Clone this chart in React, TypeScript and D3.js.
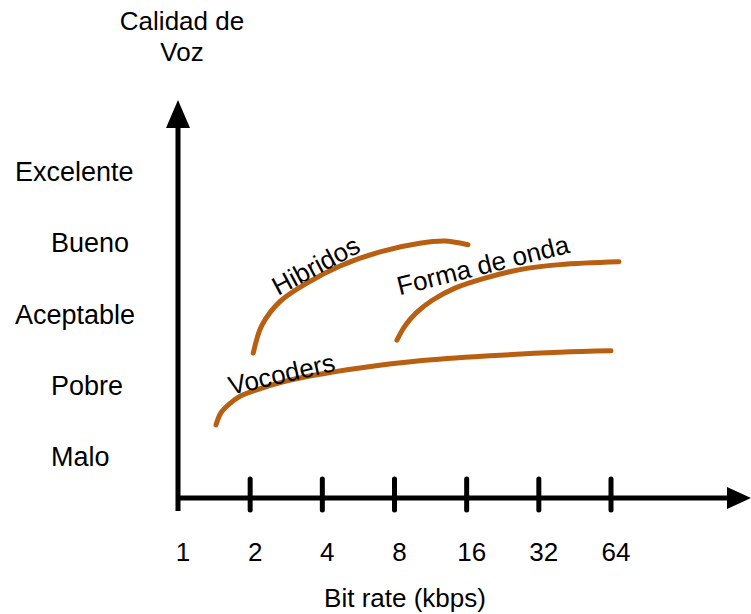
import * as d3 from 'd3';

// quality levels, top to bottom
const qualityLabels = ['Excelente', 'Bueno', 'Aceptable', 'Pobre', 'Malo'];
const qualityValues = [5, 4, 3, 2, 1];

const bitRates = [1, 2, 4, 8, 16, 32, 64];

// [kbps, quality]
const vocoders: [number, number][] = [
  [1.44, 1.45], [1.51, 1.62], [1.63, 1.74], [1.83, 1.86], [2.16, 1.95],
  [2.72, 2.05], [3.73, 2.15], [5.74, 2.25], [10.2, 2.35], [20.0, 2.42],
  [39.2, 2.47], [64, 2.49],
];
const hibridos: [number, number][] = [
  [2.06, 2.46], [2.24, 2.85], [2.66, 3.18], [3.45, 3.44], [4.74, 3.68],
  [6.96, 3.88], [10.2, 4.0], [13.0, 4.03], [16.2, 3.98],
];
const formaDeOnda: [number, number][] = [
  [8.19, 2.64], [8.85, 2.84], [9.83, 3.02], [11.5, 3.2], [14.3, 3.37],
  [19.1, 3.51], [26.7, 3.63], [39.2, 3.7], [69.1, 3.74],
];

// curve names: [name, kbps, quality, angle]
const curveLabels: [string, number, number, number][] = [
  ['Hibridos', 2.61, 3.26, -28],
  ['Forma de onda', 8.4, 3.27, -14],
  ['Vocoders', 1.66, 1.87, -13],
];

const W = 751;
const H = 614;
const ORIGIN_X = 178;
const ORIGIN_Y = 498;
const FONT = 'Liberation Sans, Arial, sans-serif';
const CURVE = '#b85f12';

export default function App() {
  const x = d3.scaleLog().base(2).domain([1, 64]).range([ORIGIN_X, 611]);
  const y = d3.scaleLinear().domain([1, 5]).range([457, 172]);

  const line = d3.line<[number, number]>()
    .x((d) => x(d[0]))
    .y((d) => y(d[1]))
    .curve(d3.curveCatmullRom.alpha(0.5));

  const indent = (l: string) => (l === 'Excelente' || l === 'Aceptable' ? 15 : 51);

  return (
    <svg width={W} height={H} style={{ position: 'absolute', left: 0, top: 0 }}
      fontFamily={FONT} fontSize={26}>
      <rect width={W} height={H} fill="#fff" />

      {/* y axis title */}
      <text x={182} y={30} textAnchor="middle">Calidad de</text>
      <text x={182} y={61} textAnchor="middle">Voz</text>

      {/* quality labels */}
      {qualityLabels.map((l, i) => (
        <text key={l} x={indent(l)} y={y(qualityValues[i]) + 9} fontSize={27}>{l}</text>
      ))}

      {/* axes */}
      <line x1={ORIGIN_X} x2={ORIGIN_X} y1={124} y2={511} stroke="#000" strokeWidth={5} />
      <path d={`M${ORIGIN_X},100 L${ORIGIN_X - 12},128 L${ORIGIN_X + 12},128 Z`} fill="#000" />
      <line x1={ORIGIN_X} x2={730} y1={ORIGIN_Y} y2={ORIGIN_Y} stroke="#000" strokeWidth={5} />
      <path d={`M751,${ORIGIN_Y} L727,${ORIGIN_Y - 11} L727,${ORIGIN_Y + 11} Z`} fill="#000" />

      {/* ticks */}
      {bitRates.slice(1).map((b) => (
        <line key={b} x1={x(b)} x2={x(b)} y1={479} y2={510}
          stroke="#000" strokeWidth={5} strokeLinecap="round" />
      ))}
      {bitRates.map((b) => (
        <text key={b} x={x(b) + 5} y={561} textAnchor="middle">{b}</text>
      ))}
      <text x={405} y={607} textAnchor="middle">Bit rate (kbps)</text>

      {/* curves */}
      {[vocoders, hibridos, formaDeOnda].map((d, i) => (
        <path key={i} d={line(d) ?? ''} fill="none" stroke={CURVE}
          strokeWidth={5} strokeLinecap="round" />
      ))}

      {curveLabels.map(([name, b, q, a]) => (
        <text key={name} transform={`translate(${x(b)},${y(q)}) rotate(${a})`}>{name}</text>
      ))}
    </svg>
  );
}
